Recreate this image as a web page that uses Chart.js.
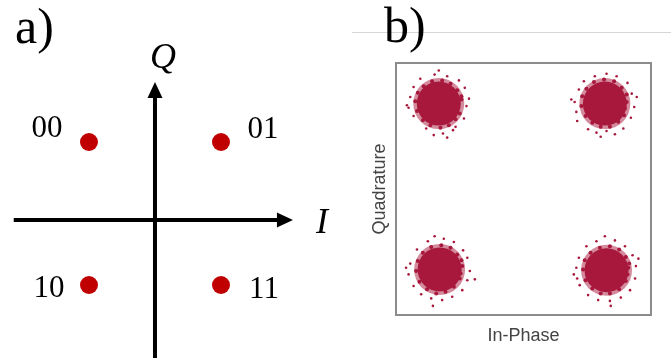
<!DOCTYPE html>
<html>
<head>
<meta charset="utf-8">
<script src="https://cdn.jsdelivr.net/npm/chart.js@4/dist/chart.umd.min.js"></script>
<style>
  html, body { margin: 0; padding: 0; background: #ffffff; }
  #wrap { position: relative; width: 671px; height: 362px; overflow: hidden; }
  #ideal { position: absolute; left: 0; top: 0; }
  #received { position: absolute; left: 340px; top: 0; }
</style>
</head>
<body>
<div id="wrap">
  <canvas id="ideal" width="340" height="362"></canvas>
  <canvas id="received" width="331" height="362"></canvas>
</div>
<script>
// ---- a) ideal QPSK constellation ----
const bitLabels = ['00', '01', '10', '11'];
const idealI = [-1, 1, -1, 1];
const idealQ = [1, 1, -1, -1];

// ---- b) received symbols (dense core + noisy fringe per symbol) ----
const clusterCentres = [
  { x: -1.01, y: 1.03 }, { x: 0.97, y: 1.03 },
  { x: -1.00, y: -0.97 }, { x: 0.99, y: -0.98 }
];
const fringeTL = [
  [-0.74,1.08],[-0.76,0.91],[-0.81,0.84],[-0.89,0.77],[-0.99,0.74],[-1.11,0.77],[-1.20,0.83],[-1.27,0.94],
  [-1.29,1.06],[-1.26,1.16],[-1.19,1.24],[-1.09,1.30],[-0.97,1.31],[-0.87,1.27],[-0.79,1.19],[-0.74,1.12]
];
const strayTL = [
  [-0.68,1.00],[-0.65,1.09],[-0.71,0.85],[-0.84,0.71],[-0.96,0.67],[-1.07,0.65],[-0.91,0.62],[-1.16,0.73],
  [-1.31,0.88],[-1.37,0.98],[-1.35,1.11],[-1.31,1.23],[-1.23,1.33],[-1.06,1.38],[-0.91,1.36],[-0.77,1.31],
  [-0.70,1.22],[-1.39,1.01],[-1.01,1.43],[-0.81,0.75]
];
const fringeTR = [
  [1.23,1.05],[1.20,0.89],[1.13,0.81],[1.03,0.75],[0.92,0.75],[0.82,0.80],[0.74,0.88],[0.69,1.00],
  [0.70,1.12],[0.75,1.21],[0.84,1.29],[0.96,1.32],[1.08,1.30],[1.17,1.22],[1.23,1.14],[1.21,0.97]
];
const strayTR = [
  [0.61,1.05],[0.63,0.93],[0.57,1.08],[0.66,1.20],[0.77,0.72],[0.87,0.68],[0.99,0.70],[1.09,0.66],
  [1.19,0.73],[1.28,0.86],[1.32,0.99],[1.29,1.15],[1.24,1.28],[1.11,1.36],[0.99,1.39],[0.85,1.36],
  [0.72,1.30],[0.64,0.82],[1.35,1.11],[0.92,0.63]
];
const fringeBL = [
  [-0.73,-0.93],[-0.76,-1.08],[-0.83,-1.18],[-0.93,-1.24],[-1.04,-1.26],[-1.15,-1.21],[-1.24,-1.12],[-1.28,-0.99],
  [-1.26,-0.87],[-1.20,-0.77],[-1.10,-0.70],[-0.98,-0.68],[-0.87,-0.71],[-0.79,-0.79],[-0.74,-0.86],[-0.75,-1.02]
];
const strayBL = [
  [-0.64,-0.99],[-0.58,-1.09],[-0.67,-0.83],[-0.72,-0.74],[-0.83,-0.64],[-0.95,-0.60],[-1.06,-0.57],[-1.14,-0.63],
  [-1.27,-0.73],[-1.35,-0.90],[-1.37,-1.03],[-1.31,-1.17],[-1.22,-1.27],[-1.10,-1.32],[-0.97,-1.34],[-0.85,-1.30],
  [-0.73,-1.22],[-0.67,-1.10],[-1.40,-0.95],[-1.08,-1.41]
];
const fringeBR = [
  [1.25,-0.95],[1.22,-1.11],[1.14,-1.21],[1.03,-1.26],[0.92,-1.26],[0.82,-1.20],[0.74,-1.10],[0.71,-0.97],
  [0.73,-0.86],[0.80,-0.77],[0.91,-0.71],[1.03,-0.69],[1.14,-0.73],[1.22,-0.82],[1.26,-0.90],[1.24,-1.03]
];
const strayBR = [
  [0.63,-0.95],[0.60,-1.03],[0.66,-0.83],[0.75,-0.69],[0.87,-0.63],[0.97,-0.57],[1.09,-0.62],[1.21,-0.69],
  [1.30,-0.80],[1.34,-0.93],[1.33,-1.08],[1.27,-1.22],[1.16,-1.31],[1.03,-1.35],[0.89,-1.34],[0.77,-1.28],
  [0.67,-1.16],[0.64,-1.08],[1.37,-0.84],[1.04,-1.41]
];

const SERIF = '"Liberation Serif", "Times New Roman", serif';
const SANS = '"Liberation Sans", Arial, sans-serif';
const DOT_RED = '#c00000';
const SYMBOL_RED = '#a8183c';
const SYMBOL_HALO = 'rgba(168, 24, 60, 0.5)';

// ---------- panel a ----------
const idealPoints = idealI.map((v, k) => ({ x: v, y: idealQ[k] }));
// label offsets (px) relative to each dot
const labelDx = [-42, 42, -40, 43];
const labelDy = [-5, -4, 12, 13];

const axesPlugin = {
  id: 'iqAxes',
  beforeDatasetsDraw(chart) {
    const { ctx, scales: { x, y } } = chart;
    const x0 = x.getPixelForValue(0);
    const yAxis = y.getPixelForValue(-0.09);
    const left = x.getPixelForValue(-2.14), right = x.getPixelForValue(2.09);
    const top = y.getPixelForValue(1.84), bottom = y.getPixelForValue(-2.02);
    ctx.save();
    ctx.strokeStyle = '#000';
    ctx.fillStyle = '#000';
    ctx.lineWidth = 4;
    ctx.beginPath();
    ctx.moveTo(left, yAxis); ctx.lineTo(right - 12, yAxis);
    ctx.moveTo(x0, bottom); ctx.lineTo(x0, top + 12);
    ctx.stroke();
    // arrow heads
    ctx.beginPath();
    ctx.moveTo(right, yAxis); ctx.lineTo(right - 16, yAxis - 7.5); ctx.lineTo(right - 16, yAxis + 7.5); ctx.closePath();
    ctx.fill();
    ctx.beginPath();
    ctx.moveTo(x0, top); ctx.lineTo(x0 - 7.5, top + 16); ctx.lineTo(x0 + 7.5, top + 16); ctx.closePath();
    ctx.fill();
    // axis names
    ctx.font = 'italic 36px ' + SERIF;
    ctx.textAlign = 'center';
    ctx.textBaseline = 'alphabetic';
    ctx.fillText('Q', x0 + 8, 68);
    ctx.fillText('I', right + 29, 233);
    // panel letter
    ctx.font = '50px ' + SERIF;
    ctx.textAlign = 'left';
    ctx.fillText('a)', 15, 43);
    ctx.restore();
  },
  afterDatasetsDraw(chart) {
    const { ctx } = chart;
    const meta = chart.getDatasetMeta(0);
    ctx.save();
    ctx.font = '31px ' + SERIF;
    ctx.fillStyle = '#000';
    ctx.textAlign = 'center';
    ctx.textBaseline = 'alphabetic';
    meta.data.forEach((pt, k) => {
      ctx.fillText(bitLabels[k], pt.x + labelDx[k], pt.y + labelDy[k]);
    });
    ctx.restore();
  }
};

new Chart(document.getElementById('ideal'), {
  type: 'scatter',
  data: {
    datasets: [{
      data: idealPoints,
      backgroundColor: DOT_RED,
      borderWidth: 0,
      pointRadius: 9,
      pointHoverRadius: 9
    }]
  },
  options: {
    responsive: false,
    animation: false,
    events: [],
    layout: { padding: 0, autoPadding: false },
    plugins: { legend: { display: false }, tooltip: { enabled: false } },
    scales: {
      x: { display: false, min: -2.348, max: 2.803 },
      y: { display: false, min: -2.077, max: 2.986 }
    }
  },
  plugins: [axesPlugin]
});

// ---------- panel b ----------
const toPts = arr => arr.map(p => ({ x: p[0], y: p[1] }));

const framePlugin = {
  id: 'frame',
  beforeDraw(chart) {
    const { ctx } = chart;
    ctx.save();
    ctx.strokeStyle = '#d6d6d6';
    ctx.lineWidth = 1;
    ctx.beginPath();
    ctx.moveTo(12, 32.5); ctx.lineTo(331, 32.5);
    ctx.stroke();
    ctx.font = '50px ' + SERIF;
    ctx.fillStyle = '#000';
    ctx.textAlign = 'left';
    ctx.textBaseline = 'alphabetic';
    ctx.fillText('b)', 44, 42);
    ctx.restore();
  },
  afterDraw(chart) {
    const { ctx, chartArea: a } = chart;
    ctx.save();
    ctx.strokeStyle = '#8c8c8c';
    ctx.lineWidth = 2;
    ctx.strokeRect(a.left, a.top, a.right - a.left, a.bottom - a.top);
    ctx.restore();
  }
};

const fringeSet = (arr) => ({
  data: toPts(arr), backgroundColor: SYMBOL_RED, borderWidth: 0, pointRadius: 2.0, pointHoverRadius: 2.0
});
const straySet = (arr) => ({
  data: toPts(arr), backgroundColor: SYMBOL_RED, borderWidth: 0, pointRadius: 1.3, pointHoverRadius: 1.3
});

new Chart(document.getElementById('received'), {
  type: 'scatter',
  data: {
    datasets: [
      { data: clusterCentres, backgroundColor: SYMBOL_RED, borderWidth: 0, pointRadius: 22, pointHoverRadius: 22 },
      { data: clusterCentres, backgroundColor: SYMBOL_HALO, borderWidth: 0, pointRadius: 25.5, pointHoverRadius: 25.5 },
      fringeSet(fringeTL), fringeSet(fringeTR), fringeSet(fringeBL), fringeSet(fringeBR),
      straySet(strayTL), straySet(strayTR), straySet(strayBL), straySet(strayBR)
    ]
  },
  options: {
    responsive: false,
    animation: false,
    events: [],
    layout: { padding: { left: 29.2, right: 20, top: 63, bottom: 15 }, autoPadding: false },
    plugins: { legend: { display: false }, tooltip: { enabled: false } },
    scales: {
      x: {
        min: -1.52, max: 1.52,
        ticks: { display: false },
        grid: { display: false, drawTicks: false },
        border: { display: false },
        title: { display: true, text: 'In-Phase', color: '#444', font: { family: SANS, size: 18 }, padding: { top: 10.4, bottom: 0 } }
      },
      y: {
        min: -1.52, max: 1.52,
        ticks: { display: false },
        grid: { display: false, drawTicks: false },
        border: { display: false },
        title: { display: true, text: 'Quadrature', color: '#444', font: { family: SANS, size: 18 }, padding: { top: 0, bottom: 5.2 } }
      }
    }
  },
  plugins: [framePlugin]
});
</script>
</body>
</html>
